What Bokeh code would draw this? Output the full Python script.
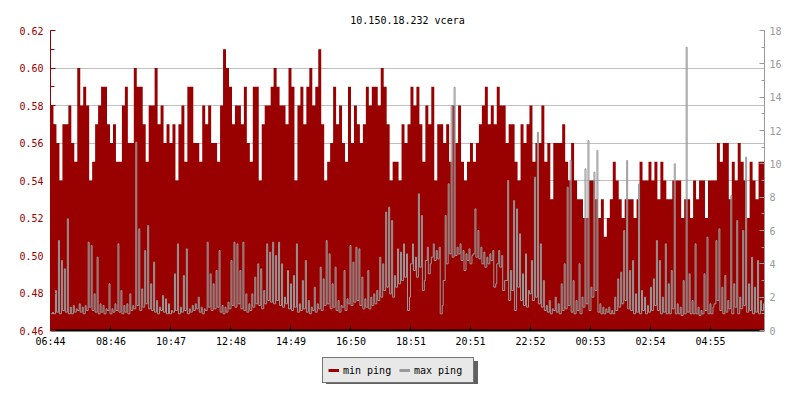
from bokeh.plotting import figure
from bokeh.models import (Range1d, LinearAxis, FixedTicker, SingleIntervalTicker,
                          Legend, LegendItem, PrintfTickFormatter)
from bokeh.layouts import column
from bokeh.embed import file_html
from bokeh.resources import INLINE

title_text = "10.150.18.232 vcera"
tick_labels = ["06:44", "08:46", "10:47", "12:48", "14:49", "16:50",
               "18:51", "20:51", "22:52", "00:53", "02:54", "04:55"]
start_label = "06:44"
bin_minutes = 6
span_minutes = 1440
legend_labels = ["min ping", "max ping"]

# min ping in hundredths of ms, one value per 6-minute bin
min_ping_hundredths = [
    58, 57, 56, 54, 57, 57, 58, 56, 55, 60, 58, 59, 58, 54, 55, 57, 58, 59, 59, 57,
    56, 57, 55, 55, 58, 59, 56, 56, 60, 59, 59, 57, 55, 58, 58, 60, 57, 58, 56, 57,
    56, 57, 54, 57, 58, 55, 59, 59, 56, 56, 55, 58, 57, 58, 56, 56, 55, 58, 61, 60,
    59, 57, 58, 58, 57, 59, 56, 55, 59, 59, 54, 57, 58, 58, 59, 60, 59, 58, 58, 57,
    60, 59, 54, 58, 59, 57, 59, 60, 58, 59, 61, 57, 54, 55, 56, 59, 57, 58, 56, 55,
    59, 56, 58, 57, 56, 57, 59, 58, 59, 59, 58, 60, 59, 57, 54, 55, 55, 54, 57, 56,
    57, 59, 58, 59, 57, 55, 58, 57, 59, 54, 57, 57, 56, 57, 55, 58, 56, 58, 55, 54,
    55, 56, 55, 56, 57, 58, 59, 57, 58, 57, 59, 58, 58, 56, 57, 57, 55, 54, 57, 56,
    57, 58, 55, 56, 56, 58, 55, 56, 53, 56, 56, 56, 57, 55, 54, 56, 54, 53, 53, 52,
    52, 54, 54, 53, 52, 53, 51, 52, 53, 55, 54, 53, 52, 53, 53, 53, 52, 53, 55, 54,
    54, 55, 54, 55, 53, 55, 54, 53, 53, 54, 54, 54, 52, 53, 53, 52, 54, 53, 54, 54,
    52, 54, 54, 54, 56, 55, 56, 56, 53, 55, 54, 56, 55, 54, 52, 55, 54, 53, 55, 55,
]

# max ping in ms: peak within each 6-minute bin
max_ping_peak_ms = [
    1.1, 2.4, 5.4, 4.2, 3.7, 6.7, 1.4, 1.5, 1.3, 1.6, 1.4, 1.5, 5.3, 5.1, 2.2, 4.4, 1.6, 1.5, 1.3, 2.8,
    1.3, 1.6, 5.2, 2.4, 1.5, 1.6, 2.2, 1.5, 11.3, 6.1, 2.5, 4.8, 6.3, 2.8, 4.1, 1.8, 1.4, 2.1, 1.9, 1.6,
    1.2, 3.4, 5.2, 1.4, 3.3, 4.9, 1.3, 1.5, 1.6, 2.0, 1.4, 1.3, 5.3, 3.4, 2.8, 3.6, 4.8, 1.5, 1.4, 1.7,
    4.2, 5.3, 5.2, 3.6, 5.3, 2.2, 1.6, 2.2, 3.2, 4.0, 3.7, 2.4, 5.2, 4.7, 5.3, 4.5, 5.3, 4.0, 2.0, 3.6,
    2.8, 3.3, 5.2, 1.6, 3.0, 4.2, 1.8, 1.4, 2.6, 1.6, 3.8, 3.1, 5.4, 4.6, 2.8, 3.8, 1.8, 1.5, 3.6, 1.9,
    5.1, 4.1, 5.0, 4.9, 3.2, 1.9, 3.6, 2.0, 2.2, 2.4, 4.4, 4.0, 7.1, 7.4, 6.6, 3.3, 4.9, 4.7, 5.2, 4.6,
    2.0, 5.2, 4.4, 8.2, 6.9, 3.0, 5.0, 4.0, 5.2, 4.8, 5.0, 1.5, 6.9, 8.8, 13.5, 14.6, 5.0, 5.2, 4.8, 4.6,
    4.9, 4.5, 7.3, 6.0, 5.0, 4.7, 4.4, 4.6, 4.8, 2.8, 4.8, 4.5, 3.0, 9.0, 3.6, 7.8, 7.3, 5.8, 3.4, 4.6,
    2.4, 4.2, 9.2, 11.9, 5.2, 3.0, 1.5, 1.8, 1.3, 2.0, 1.6, 2.8, 4.0, 8.6, 10.2, 3.0, 1.8, 4.0, 2.0, 9.7,
    11.4, 2.6, 9.5, 10.8, 1.6, 1.4, 1.3, 1.4, 1.2, 2.0, 3.1, 3.5, 6.0, 10.2, 3.6, 4.2, 2.2, 8.8, 2.4, 2.0,
    1.5, 2.6, 3.1, 5.4, 4.2, 2.0, 5.2, 2.8, 3.6, 10.0, 1.6, 1.4, 3.0, 17.0, 3.4, 1.8, 5.2, 1.4, 1.2, 3.4,
    5.6, 1.6, 1.4, 5.4, 6.1, 2.6, 3.3, 1.8, 8.1, 2.8, 6.6, 2.0, 6.0, 10.4, 2.8, 4.4, 2.6, 4.2, 1.8, 1.6,
]

# max ping in ms: low level within each 6-minute bin
max_ping_low_ms = [
    1.0, 1.0, 1.1, 1.0, 1.2, 1.1, 1.0, 1.0, 1.1, 1.2, 1.1, 1.0, 1.2, 1.4, 1.2, 1.1, 1.0, 1.1, 1.0, 1.2,
    1.0, 1.1, 1.2, 1.1, 1.0, 1.1, 1.0, 1.2, 1.3, 1.5, 1.2, 1.4, 1.6, 1.3, 1.2, 1.1, 1.0, 1.2, 1.1, 1.0,
    1.0, 1.1, 1.2, 1.0, 1.1, 1.2, 1.0, 1.1, 1.2, 1.3, 1.1, 1.0, 1.2, 1.4, 1.2, 1.3, 1.4, 1.1, 1.0, 1.1,
    1.3, 1.5, 1.4, 1.6, 1.3, 1.2, 1.1, 1.2, 1.4, 1.6, 1.5, 1.3, 1.6, 1.8, 1.7, 1.6, 1.8, 1.5, 1.4, 1.6,
    1.3, 1.2, 1.4, 1.1, 1.2, 1.3, 1.1, 1.0, 1.2, 1.1, 1.3, 1.2, 1.5, 1.6, 1.3, 1.4, 1.2, 1.1, 1.4, 1.2,
    1.6, 1.5, 1.7, 1.8, 1.5, 1.3, 1.4, 1.3, 1.5, 1.6, 1.8, 2.0, 2.4, 2.6, 2.2, 2.0, 2.6, 2.8, 3.0, 3.2,
    1.2, 4.0, 3.6, 3.2, 3.8, 2.4, 4.2, 3.4, 4.4, 4.2, 4.3, 1.0, 3.0, 4.0, 4.6, 4.4, 4.5, 4.6, 4.2, 3.6,
    4.2, 4.0, 4.6, 4.4, 4.3, 4.0, 3.8, 4.0, 4.2, 2.6, 4.0, 3.8, 2.4, 3.0, 1.8, 2.4, 1.2, 2.6, 1.8, 1.5,
    1.4, 2.2, 1.8, 2.0, 1.6, 1.4, 1.2, 1.1, 1.0, 1.2, 1.1, 1.0, 1.2, 1.3, 1.5, 1.1, 1.0, 1.2, 1.0, 1.4,
    1.6, 1.2, 2.0, 2.4, 1.1, 1.0, 1.0, 1.1, 1.0, 1.0, 1.2, 1.4, 1.6, 1.8, 1.3, 1.2, 1.0, 1.1, 1.0, 1.2,
    1.0, 1.1, 1.2, 1.5, 1.2, 1.0, 1.1, 1.0, 1.0, 1.3, 1.0, 1.0, 0.9, 1.0, 1.1, 1.0, 1.0, 1.0, 0.9, 1.0,
    1.2, 1.0, 1.0, 1.6, 1.8, 1.2, 1.0, 1.1, 1.3, 1.0, 1.4, 1.0, 1.3, 1.5, 1.1, 1.2, 1.0, 1.1, 1.0, 1.2,
]

RED = "#990000"
GRAY = "#999999"
SHADOW = "#606060"
FONT = "DejaVu Sans Mono"


def to_min(lbl):
    h, m = lbl.split(":")
    return int(h) * 60 + int(m)


t0 = to_min(start_label)
tick_pos = [(to_min(l) - t0) % 1440 for l in tick_labels]

n = len(min_ping_hundredths)
xs = [i * bin_minutes for i in range(n + 1)]
min_vals = [v / 100 for v in min_ping_hundredths]
min_vals.append(min_vals[-1])

# max series: low level at start of each bin, peak in its last third
mx_x, mx_y = [], []
peak_offset = 4
for i in range(n):
    mx_x += [i * bin_minutes, i * bin_minutes + peak_offset]
    mx_y += [max_ping_low_ms[i], max_ping_peak_ms[i]]
mx_x.append(n * bin_minutes)
mx_y.append(max_ping_low_ms[-1])

p = figure(width=784, height=352, output_backend="svg", toolbar_location=None,
           x_range=Range1d(0, span_minutes), y_range=Range1d(0.46, 0.62),
           min_border_left=50, min_border_right=18, min_border_top=30,
           min_border_bottom=22, title=title_text)
p.extra_y_ranges = {"right": Range1d(0, 18)}
p.outline_line_color = None
p.background_fill_color = "white"
p.border_fill_color = "white"

p.title.align = "center"
p.title.text_font = FONT
p.title.text_font_size = "10px"
p.title.text_font_style = "normal"
p.title.text_color = "black"

p.varea_step(x=xs, y1=[0.46] * len(xs), y2=min_vals, step_mode="after",
             fill_color=RED, fill_alpha=1)
p.step(x=mx_x, y=mx_y, mode="after", line_color=GRAY, line_width=1,
       y_range_name="right")

# x axis
xa = p.xaxis[0]
xa.ticker = FixedTicker(ticks=tick_pos)
xa.major_label_overrides = {tp: lb for tp, lb in zip(tick_pos, tick_labels)}
xa.major_tick_in = 5
xa.major_tick_out = 0
xa.minor_tick_line_color = None
xa.axis_line_color = "black"
xa.axis_line_width = 2
xa.major_tick_line_color = "black"
xa.major_label_text_font = FONT
xa.major_label_text_font_size = "10px"
xa.major_label_text_color = "black"
xa.major_label_standoff = 5
p.xgrid.visible = False

# left axis
ya = p.yaxis[0]
ya.ticker = SingleIntervalTicker(interval=0.02, num_minor_ticks=2)
ya.formatter = PrintfTickFormatter(format="%.2f")
ya.major_tick_in = 5
ya.major_tick_out = 0
ya.minor_tick_in = 4
ya.minor_tick_out = 0
ya.axis_line_color = RED
ya.major_tick_line_color = RED
ya.minor_tick_line_color = RED
ya.major_label_text_font = FONT
ya.major_label_text_font_size = "10px"
ya.major_label_text_color = RED
ya.major_label_standoff = 7
p.ygrid.grid_line_color = "#c0c0c0"
p.ygrid.grid_line_width = 1

# right axis
ra = LinearAxis(y_range_name="right",
                ticker=SingleIntervalTicker(interval=2, num_minor_ticks=2))
ra.major_tick_in = 5
ra.major_tick_out = 0
ra.minor_tick_in = 3
ra.minor_tick_out = 0
ra.axis_line_color = GRAY
ra.major_tick_line_color = GRAY
ra.minor_tick_line_color = GRAY
ra.major_label_text_font = FONT
ra.major_label_text_font_size = "10px"
ra.major_label_text_color = GRAY
ra.major_label_standoff = 5
p.add_layout(ra, "right")

# legend strip below the chart (its frame is aligned with the chart frame)
p2 = figure(width=784, height=32, output_backend="svg", toolbar_location=None,
            x_range=Range1d(0, 1), y_range=Range1d(0, 1),
            x_axis_location=None, y_axis_location=None, min_border=0)
p2.outline_line_color = None
p2.grid.visible = False
p2.background_fill_color = "white"
p2.border_fill_color = "white"

nan = float("nan")
sh = [p2.line(x=[nan], y=[nan], line_color=SHADOW, line_width=3) for _ in legend_labels]
lg = [p2.line(x=[nan], y=[nan], line_color=c, line_width=3) for c in (RED, GRAY)]


def make_legend(labels, rends, loc, bg, border, txt):
    return Legend(items=[LegendItem(label=l, renderers=[r]) for l, r in zip(labels, rends)],
                  location=loc, orientation="horizontal",
                  glyph_width=11, glyph_height=14, label_height=14,
                  label_width=54, label_standoff=4, spacing=2, padding=5,
                  margin=0, label_text_font=FONT, label_text_font_size="10px",
                  label_text_color=txt, background_fill_color=bg,
                  background_fill_alpha=1, border_line_color=border,
                  border_line_width=1)


# drop shadow: same box size, blank labels
p2.add_layout(make_legend([" ", " "], sh, (276, -3), SHADOW, SHADOW, SHADOW), "center")
p2.add_layout(make_legend(legend_labels, lg, (272, 1), "#e8e8e8", "black", "black"), "center")

layout = column(p, p2, spacing=0)
open("out.html", "w").write(file_html(layout, INLINE))
